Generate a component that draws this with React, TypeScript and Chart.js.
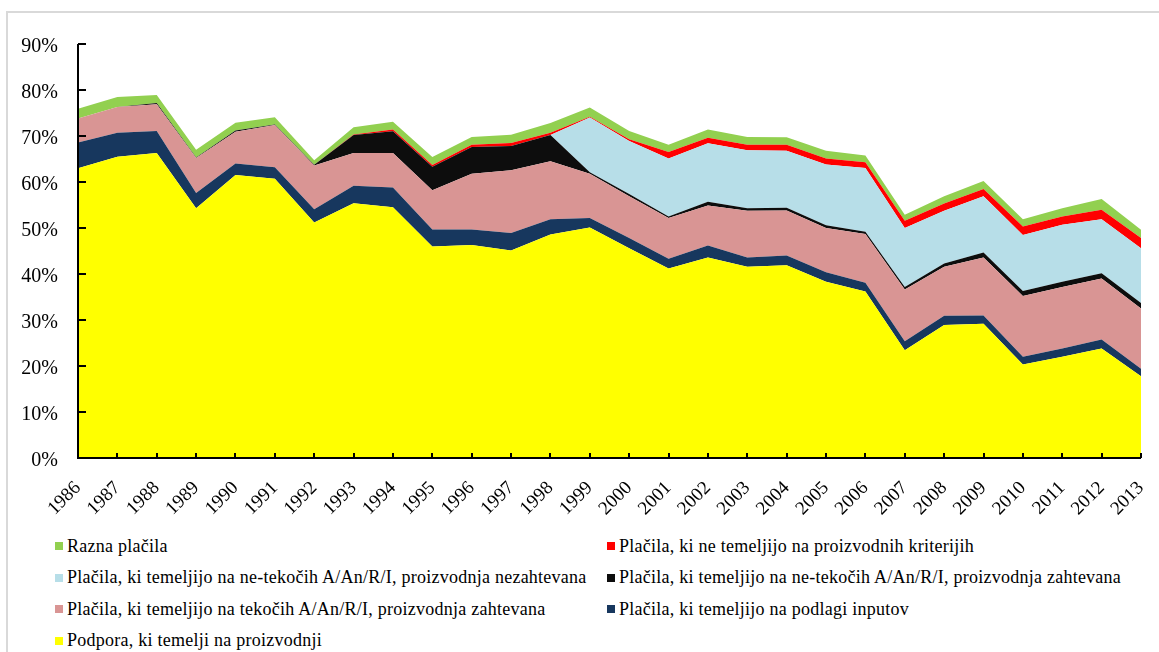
import React, { useEffect, useRef } from "react";
import { Chart, registerables } from "chart.js";

Chart.register(...registerables);

const years = [
  "1986", "1987", "1988", "1989", "1990", "1991", "1992", "1993", "1994", "1995",
  "1996", "1997", "1998", "1999", "2000", "2001", "2002", "2003", "2004", "2005",
  "2006", "2007", "2008", "2009", "2010", "2011", "2012", "2013",
];

const podpora = [63.0, 65.5, 66.3, 54.3, 61.5, 60.7, 51.2, 55.4, 54.5, 46.0, 46.3, 45.1, 48.6, 50.1, 45.6, 41.2, 43.6, 41.6, 41.9, 38.3, 36.2, 23.4, 28.9, 29.2, 20.3, 22.0, 23.8, 17.75];
const inputi = [5.6, 5.2, 4.8, 3.3, 2.5, 2.5, 2.9, 3.8, 4.3, 3.7, 3.4, 3.8, 3.3, 2.1, 2.2, 2.1, 2.6, 2.0, 2.1, 2.1, 1.9, 2.0, 2.0, 1.8, 1.7, 1.8, 1.95, 1.65];
const tekociZaht = [5.2, 5.6, 5.8, 7.6, 6.9, 9.2, 9.5, 7.1, 7.5, 8.5, 12.1, 13.65, 12.6, 9.6, 9.1, 8.85, 8.7, 10.15, 9.8, 9.6, 10.6, 11.25, 10.7, 12.6, 13.2, 13.4, 13.25, 13.1];
const netekociZaht = [0, 0, 0.3, 0.1, 0.3, 0.1, 0.15, 3.9, 4.75, 5.1, 5.8, 5.25, 5.7, 0.3, 0.5, 0.35, 0.8, 0.55, 0.6, 0.6, 0.5, 0.55, 0.7, 1.1, 1.1, 1.1, 1.15, 1.2];
const netekociNezaht = [0, 0, 0, 0, 0, 0, 0, 0, 0, 0, 0, 0, 0, 11.9, 11.5, 12.6, 12.7, 12.6, 12.4, 13.2, 13.85, 12.8, 11.45, 12.2, 12.2, 12.4, 11.75, 11.9];
const neProizv = [0, 0, 0, 0, 0, 0, 0, 0.1, 0.35, 0.4, 0.5, 0.7, 0.5, 0.2, 0.4, 1.4, 1.2, 1.2, 1.3, 1.3, 1.25, 1.6, 1.55, 1.6, 1.8, 1.8, 2.05, 2.2];
const razna = [2.1, 2.2, 1.7, 1.7, 1.7, 1.6, 1.0, 1.6, 1.7, 1.75, 1.7, 1.75, 2.1, 2.0, 1.8, 1.6, 1.8, 1.7, 1.65, 1.7, 1.45, 1.3, 1.6, 1.7, 1.6, 1.8, 2.35, 1.8];

const seriesLabels = [
  "Podpora, ki temelji na proizvodnji",
  "Plačila, ki temeljijo na podlagi inputov",
  "Plačila, ki temeljijo na tekočih A/An/R/I, proizvodnja zahtevana",
  "Plačila, ki temeljijo na ne-tekočih A/An/R/I, proizvodnja zahtevana",
  "Plačila, ki temeljijo na ne-tekočih A/An/R/I, proizvodnja nezahtevana",
  "Plačila, ki ne temeljijo na proizvodnih kriterijih",
  "Razna plačila",
];
const seriesValues = [podpora, inputi, tekociZaht, netekociZaht, netekociNezaht, neProizv, razna];
const seriesColors = ["#FFFF00", "#17375E", "#D99594", "#0D0D0D", "#B7DEE8", "#FF0000", "#92D050"];

// legend order: rows, left then right
const legendOrder = [6, 5, 4, 3, 2, 1, 0];

const yTicks = [0, 10, 20, 30, 40, 50, 60, 70, 80, 90];

const FONT = "'Liberation Serif', 'Times New Roman', serif";

const axesPlugin = {
  id: "axesTicks",
  afterDatasetsDraw(chart: any) {
    const { ctx, chartArea, scales } = chart;
    const { left, right, top, bottom } = chartArea;
    const x = scales.x;
    const y = scales.y;
    ctx.save();
    ctx.strokeStyle = "#000";
    ctx.lineWidth = 2;
    ctx.beginPath();
    ctx.moveTo(left, top);
    ctx.lineTo(left, bottom);
    ctx.lineTo(right, bottom);
    y.ticks.forEach((_t: any, i: number) => {
      const py = Math.round(y.getPixelForTick(i));
      ctx.moveTo(left, py);
      ctx.lineTo(left + 8, py);
    });
    x.ticks.forEach((_t: any, i: number) => {
      const px = Math.round(x.getPixelForTick(i));
      ctx.moveTo(px, bottom);
      ctx.lineTo(px, bottom - 5);
    });
    ctx.stroke();
    ctx.restore();
  },
};

export default function App() {
  const canvasRef = useRef<HTMLCanvasElement | null>(null);

  useEffect(() => {
    const canvas = canvasRef.current;
    if (!canvas) return;
    const chart = new Chart(canvas, {
      type: "line",
      data: {
        labels: years,
        datasets: seriesValues.map((vals, i) => ({
          label: seriesLabels[i],
          data: vals,
          backgroundColor: seriesColors[i],
          borderColor: seriesColors[i],
          borderWidth: 0,
          pointRadius: 0,
          fill: i === 0 ? "origin" : "-1",
          tension: 0,
        })),
      },
      options: {
        responsive: false,
        animation: false,
        devicePixelRatio: 1,
        layout: { padding: { top: 44, right: 18, left: 0, bottom: 0 } },
        plugins: { legend: { display: false }, tooltip: { enabled: false } },
        scales: {
          x: {
            type: "category",
            offset: false,
            grid: { display: false, drawTicks: false },
            border: { display: false },
            ticks: {
              autoSkip: false,
              minRotation: 45,
              maxRotation: 45,
              padding: 19,
              color: "#000",
              font: { family: FONT, size: 19 },
            },
            afterFit: (scale: any) => {
              scale.height = 62;
              scale.paddingRight = 0;
              scale.paddingLeft = 0;
            },
          },
          y: {
            stacked: true,
            min: 0,
            max: 90,
            afterBuildTicks: (scale: any) => {
              scale.ticks = yTicks.map((v) => ({ value: v }));
            },
            grid: { display: false, drawTicks: false },
            border: { display: false },
            ticks: {
              padding: 20,
              labelOffset: 3,
              color: "#000",
              font: { family: FONT, size: 20 },
              callback: (v: any) => v + "%",
            },
            afterFit: (scale: any) => {
              scale.width = 78;
            },
          },
        },
      },
      plugins: [axesPlugin],
    });
    return () => chart.destroy();
  }, []);

  const rows: number[][] = [];
  for (let i = 0; i < legendOrder.length; i += 2) rows.push(legendOrder.slice(i, i + 2));

  return (
    <div
      style={{
        position: "fixed",
        left: 0,
        top: 0,
        width: 1159,
        height: 652,
        overflow: "hidden",
        background: "#fff",
      }}
    >
      <div
        style={{
          position: "absolute",
          left: 6,
          top: 11,
          width: 1300,
          height: 800,
          border: "2px solid #d9d9d9",
        }}
      />
      <canvas
        ref={canvasRef}
        width={1159}
        height={520}
        style={{ position: "absolute", left: 0, top: 0, width: 1159, height: 520 }}
      />
      {rows.map((row, r) =>
        row.map((idx, c) => (
          <div
            key={idx}
            style={{
              position: "absolute",
              left: c === 0 ? 55 : 607,
              top: 546 + r * 31.5 - 11,
              height: 22,
              display: "flex",
              alignItems: "center",
              whiteSpace: "nowrap",
              fontFamily: FONT,
              fontSize: 18,
              letterSpacing: 0.25,
              color: "#000",
            }}
          >
            <span
              style={{
                display: "inline-block",
                width: 8,
                height: 8,
                background: seriesColors[idx],
                marginRight: 4,
              }}
            />
            <span>{seriesLabels[idx]}</span>
          </div>
        ))
      )}
    </div>
  );
}
